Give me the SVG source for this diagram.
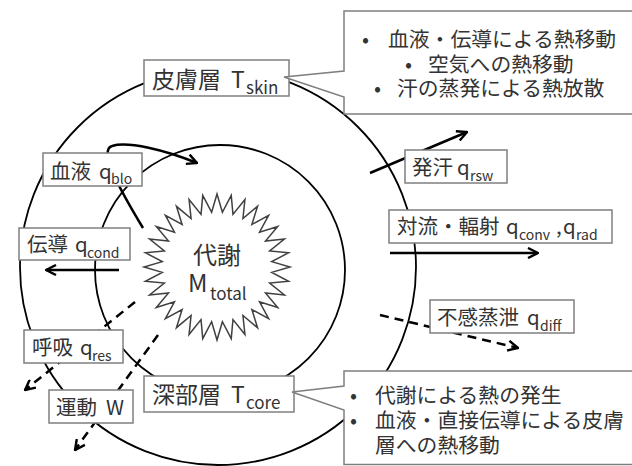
<svg xmlns="http://www.w3.org/2000/svg" width="632" height="466" viewBox="0 0 632 466">
<defs>
<style>
text{font-family:"Noto Sans CJK JP","Noto Sans",sans-serif;fill:#333}
.lbl{font-size:20.5px}
.big{font-size:23px}
.sub{font-size:14px}
.subb{font-size:17px}
.co{font-size:20.8px}
.box{fill:#fff;stroke:#7f7f7f;stroke-width:1.5}
.ring{fill:none;stroke:#000;stroke-width:1.8}
.arr{fill:none;stroke:#000;stroke-width:2.5;marker-end:url(#ah)}
.dash{stroke-dasharray:9 6}
</style>
<marker id="ah" viewBox="0 0 12 12" refX="11" refY="6" markerWidth="12" markerHeight="12" markerUnits="userSpaceOnUse" orient="auto">
<path d="M1,1 L11,6 L1,11" fill="none" stroke="#000" stroke-width="2.4" stroke-dasharray="none"/>
</marker>
</defs>
<rect width="632" height="466" fill="#fff"/>
<g id="rings">
<circle class="ring" cx="218" cy="267" r="198"/>
<circle class="ring" cx="220" cy="270" r="125"/>
</g>
<g id="metabolism">
<polygon transform="translate(217,267)" fill="#fff" stroke="#404040" stroke-width="1.5" points="0,-73 5.39,-54.73 14.24,-71.6 15.97,-52.63 27.94,-67.44 25.93,-48.51 40.56,-60.7 34.89,-42.52 51.62,-51.62 42.52,-34.89 60.7,-40.56 48.51,-25.93 67.44,-27.94 52.63,-15.97 71.6,-14.24 54.73,-5.39 73,0 54.73,5.39 71.6,14.24 52.63,15.97 67.44,27.94 48.51,25.93 60.7,40.56 42.52,34.89 51.62,51.62 34.89,42.52 40.56,60.7 25.93,48.51 27.94,67.44 15.97,52.63 14.24,71.6 5.39,54.73 0,73 -5.39,54.73 -14.24,71.6 -15.97,52.63 -27.94,67.44 -25.93,48.51 -40.56,60.7 -34.89,42.52 -51.62,51.62 -42.52,34.89 -60.7,40.56 -48.51,25.93 -67.44,27.94 -52.63,15.97 -71.6,14.24 -54.73,5.39 -73,0 -54.73,-5.39 -71.6,-14.24 -52.63,-15.97 -67.44,-27.94 -48.51,-25.93 -60.7,-40.56 -42.52,-34.89 -51.62,-51.62 -34.89,-42.52 -40.56,-60.7 -25.93,-48.51 -27.94,-67.44 -15.97,-52.63 -14.24,-71.6 -5.39,-54.73"/>
<text x="217" y="264" font-size="24" text-anchor="middle">代謝</text>
<text x="188" y="292" font-size="24">M<tspan class="subb" x="210" y="300">total</tspan></text>
</g>
<g id="connectors">
<path class="arr" d="M143,228 C120,190 98,150 112,146 C128,141 165,150 197,163"/>
<path class="arr" d="M119,270 L46,270"/>
<path class="arr dash" d="M135,302 L25,390"/>
<path class="arr dash" d="M158,335 L75,450"/>
<path class="arr" d="M370,173 L467,132"/>
<path class="arr" d="M390,253 L538,253"/>
<path class="arr dash" d="M380,315 L518,348"/>
</g>
<g id="skin">
<rect class="box" x="144" y="60" width="145" height="36"/>
<text class="big" x="152" y="88">皮膚層<tspan x="231">T</tspan><tspan class="subb" x="246" y="94">skin</tspan></text>
</g>
<g id="blood">
<rect class="box" x="43" y="153" width="99" height="33"/>
<text class="lbl" x="50" y="179">血液<tspan x="99">q</tspan><tspan class="sub" x="111" y="184">blo</tspan></text>
</g>
<g id="conduction">
<rect class="box" x="19" y="228" width="111" height="32"/>
<text class="lbl" x="27" y="252">伝導<tspan x="75">q</tspan><tspan class="sub" x="87" y="258">cond</tspan></text>
</g>
<g id="respiration">
<rect class="box" x="24" y="330" width="99" height="33"/>
<text class="lbl" x="32" y="355">呼吸<tspan x="80">q</tspan><tspan class="sub" x="92" y="361">res</tspan></text>
</g>
<g id="exercise">
<rect class="box" x="49" y="390" width="84" height="33"/>
<text class="lbl" x="56" y="415">運動<tspan x="106">W</tspan></text>
</g>
<g id="core">
<rect class="box" x="144" y="376" width="150" height="36"/>
<text class="big" x="152" y="403">深部層<tspan x="231">T</tspan><tspan class="subb" x="246" y="409">core</tspan></text>
</g>
<g id="sweat">
<rect class="box" x="405" y="150" width="102" height="33"/>
<text class="lbl" x="412" y="175">発汗<tspan x="457">q</tspan><tspan class="sub" x="470" y="181">rsw</tspan></text>
</g>
<g id="convection">
<rect class="box" x="389" y="210" width="223" height="33"/>
<text class="lbl" x="397" y="234">対流・輻射<tspan x="506">q</tspan><tspan class="sub" x="519" y="240">conv</tspan><tspan x="556" y="234">,</tspan><tspan x="563">q</tspan><tspan class="sub" x="576" y="240">rad</tspan></text>
</g>
<g id="insensible">
<rect class="box" x="430" y="300" width="144" height="33"/>
<text class="lbl" x="437" y="325">不感蒸泄<tspan x="527">q</tspan><tspan class="sub" x="540" y="331">diff</tspan></text>
</g>
<g id="skin-note">
<path class="box" d="M344,11 L640,11 L640,114 L344,114 L344,97 L284,77 L344,71 Z"/>
<text class="co"><tspan x="362" y="47">•</tspan><tspan x="388" y="47">血液・伝導による熱移動</tspan><tspan x="405" y="72">•</tspan><tspan x="428" y="72">空気への熱移動</tspan><tspan x="374" y="96">•</tspan><tspan x="397" y="96">汗の蒸発による熱放散</tspan></text>
</g>
<g id="core-note">
<path class="box" d="M344,371 L640,371 L640,464.5 L344,464.5 L344,410 L292,392 L344,386 Z"/>
<text class="co"><tspan x="350" y="403">•</tspan><tspan x="375" y="403">代謝による熱の発生</tspan><tspan x="350" y="428">•</tspan><tspan x="375" y="428">血液・直接伝導による皮膚</tspan><tspan x="375" y="453">層への熱移動</tspan></text>
</g>
</svg>
